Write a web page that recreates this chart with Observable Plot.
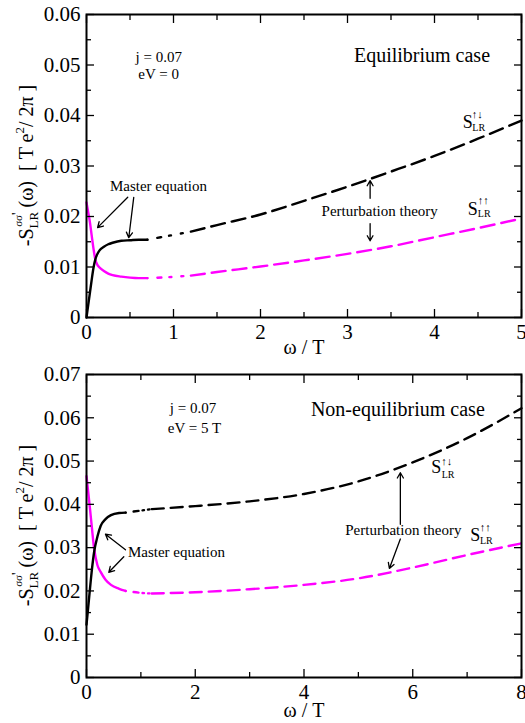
<!DOCTYPE html>
<html><head><meta charset="utf-8">
<script src="https://cdn.jsdelivr.net/npm/d3@7"></script>
<script src="https://cdn.jsdelivr.net/npm/@observablehq/plot@0.6"></script>
<style>
body{margin:0;background:#fff}
#chart{width:525px;background:#fff;font-family:'Liberation Serif',serif}
#chart svg{display:block}
#chart svg text, #chart svg tspan{font-family:'Liberation Serif',serif !important}
</style>
</head><body><div id="chart"></div>
<script>
// ---------- data ----------
// Top panel: equilibrium case, eV = 0
const topMasterW     = [0, 0.02, 0.04, 0.06, 0.08, 0.10, 0.12, 0.15, 0.20, 0.25, 0.30, 0.40, 0.50, 0.60, 0.70];
const topMasterAnti  = [0, 0.0025, 0.0050, 0.0075, 0.0098, 0.0114, 0.0124, 0.0133, 0.0140, 0.0145, 0.0148, 0.0152, 0.0153, 0.0154, 0.0154];
const topMasterPar   = [0.0228, 0.0208, 0.0188, 0.0162, 0.0137, 0.0116, 0.0106, 0.0099, 0.0092, 0.0087, 0.0084, 0.0081, 0.0079, 0.0078, 0.0078];
const topLinkW       = [0.70, 0.95, 1.20];
const topLinkAnti    = [0.0154, 0.0162, 0.0170];
const topLinkPar     = [0.0078, 0.0080, 0.0083];
const topPertW       = [1.2, 1.5, 2.0, 2.5, 3.0, 3.5, 4.0, 4.5, 5.0];
const topPertAnti    = [0.0170, 0.0183, 0.0204, 0.0231, 0.0259, 0.0289, 0.0320, 0.0354, 0.0390];
const topPertPar     = [0.0083, 0.0090, 0.0101, 0.0113, 0.0126, 0.0141, 0.0159, 0.0177, 0.0196];
// Bottom panel: non-equilibrium case, eV = 5 T
const botMasterW     = [0, 0.03, 0.06, 0.10, 0.14, 0.20, 0.26, 0.35, 0.45, 0.60, 0.72];
const botMasterAnti  = [0.0122, 0.0160, 0.0200, 0.0250, 0.0290, 0.0325, 0.0350, 0.0366, 0.0375, 0.0380, 0.0381];
const botMasterPar   = [0.0465, 0.0430, 0.0395, 0.0345, 0.0298, 0.0260, 0.0244, 0.0226, 0.0214, 0.0205, 0.0200];
const botLinkW       = [0.72, 0.96, 1.20];
const botLinkAnti    = [0.0381, 0.0385, 0.0389];
const botLinkPar     = [0.0200, 0.0196, 0.0194];
const botPertW       = [1.2, 2, 3, 4, 5, 6, 7, 8];
const botPertAnti    = [0.0389, 0.0396, 0.0407, 0.0424, 0.0453, 0.0497, 0.0553, 0.0622];
const botPertPar     = [0.0194, 0.0197, 0.0204, 0.0214, 0.0229, 0.0254, 0.0283, 0.0310];
// ticks
const topXMajor = [0, 1, 2, 3, 4, 5];
const topXMinor = [0.5, 1.5, 2.5, 3.5, 4.5];
const topYMajor = [0, 0.01, 0.02, 0.03, 0.04, 0.05, 0.06];
const topYMinor = [0.005, 0.015, 0.025, 0.035, 0.045, 0.055];
const botXMajor = [0, 2, 4, 6, 8];
const botXMinor = [1, 3, 5, 7];
const botYMajor = [0, 0.01, 0.02, 0.03, 0.04, 0.05, 0.06, 0.07];
const botYMinor = [0.005, 0.015, 0.025, 0.035, 0.045, 0.055, 0.065];
// texts
const xTitle = "ω / T";
const topParams = ["j = 0.07", "eV = 0"];
const botParams = ["j = 0.07", "eV = 5 T"];
const topCase = "Equilibrium case";
const botCase = "Non-equilibrium case";
const masterText = "Master equation";
const pertText = "Perturbation theory";

// ---------- helpers ----------
const FONT = "Liberation Serif";
const MAG = "#ff00ff";
const series = (ws, ss) => ws.map((w, i) => ({w, s: ss[i]}));
const fmtY = d => d === 0 ? "0" : d.toFixed(2);
const txt = (s, o) => Plot.text([s], {text: d => d, fontFamily: FONT, ...o});

function tickMarks(xMaj, xMin, yMaj, yMin) {
  const m = [];
  for (const [t, len] of [[xMaj, 8], [xMin, 5]]) {
    m.push(Plot.axisX({ticks: t, anchor: "bottom", tickSize: len, dy: -len, fill: "none", strokeWidth: 1.3}));
    m.push(Plot.axisX({ticks: t, anchor: "top", tickSize: len, dy: len, fill: "none", strokeWidth: 1.3}));
  }
  for (const [t, len] of [[yMaj, 8], [yMin, 5]]) {
    m.push(Plot.axisY({ticks: t, anchor: "left", tickSize: len, dx: len, fill: "none", strokeWidth: 1.3}));
    m.push(Plot.axisY({ticks: t, anchor: "right", tickSize: len, dx: -len, fill: "none", strokeWidth: 1.3}));
  }
  return m;
}
function labelMarks(xMaj, yMaj, titleDy) {
  return [
    Plot.axisX({ticks: xMaj, anchor: "bottom", tickSize: 0, tickPadding: 7, fontSize: 21, fontFamily: FONT, label: null, tickFormat: d => String(d)}),
    Plot.axisY({ticks: yMaj, anchor: "left", tickSize: 0, tickPadding: 6, fontSize: 21, fontFamily: FONT, label: null, tickFormat: fmtY}),
    Plot.text([xTitle], {frameAnchor: "bottom", dy: titleDy, text: d => d, fontSize: 20, fontFamily: FONT})
  ];
}
function curveMarks(mW, mA, mP, lW, lA, lP, pW, pA, pP, linkDash, pertDash) {
  const common = {x: "w", y: "s", strokeWidth: 2.4, curve: "monotone-x"};
  return [
    Plot.line(series(mW, mP), {...common, stroke: MAG}),
    Plot.line(series(mW, mA), {...common, stroke: "black"}),
    Plot.line(series(lW, lP), {...common, stroke: MAG, strokeDasharray: linkDash}),
    Plot.line(series(lW, lA), {...common, stroke: "black", strokeDasharray: linkDash}),
    Plot.line(series(pW, pP), {...common, stroke: MAG, strokeDasharray: pertDash}),
    Plot.line(series(pW, pA), {...common, stroke: "black", strokeDasharray: pertDash})
  ];
}
function sLabel(x, y, arrows, adx, ady, ldx, ldy) {
  return [
    txt("S", {x, y, fontSize: 18}),
    txt(arrows, {x, y, fontSize: 11, dx: adx, dy: ady, fontWeight: "bold"}),
    txt("LR", {x, y, fontSize: 10, dx: ldx, dy: ldy})
  ];
}
function arrow(x1, y1, x2, y2) {
  return Plot.arrow([0], {x1, y1, x2, y2, stroke: "black", strokeWidth: 1.3, headLength: 7});
}
function yLabel(svg, cy) {
  const t = d3.select(svg).append("text")
    .attr("transform", `translate(33,${cy}) rotate(-90)`)
    .attr("text-anchor", "middle")
    .attr("font-size", 20)
    .attr("font-family", FONT)
    .style("font-family", "'Liberation Serif', serif")
    .attr("fill", "black");
  t.append("tspan").text("-S");
  t.append("tspan").attr("font-size", 13).attr("dy", 5).text("LR");
  t.append("tspan").attr("font-size", 11).attr("dx", -15).attr("dy", -16).text("σσ");
  t.append("tspan").attr("font-size", 14).text("'");
  t.append("tspan").attr("dy", 11).text(" (ω)  [ T e");
  t.append("tspan").attr("font-size", 13).attr("dy", -9).text("2");
  t.append("tspan").attr("dy", 9).text("/ 2π ]");
}
function makePlot(opts) {
  const p = Plot.plot({
    width: 525, marginLeft: 86, marginRight: 4,
    style: {background: "white", color: "black", overflow: "visible", fontFamily: "'Liberation Serif', serif"},
    ...opts
  });
  p.setAttribute("font-family", "Liberation Serif");
  return p;
}

// ---------- top panel ----------
const topH = 365, topMT = 14, topMB = 48;
const topPlot = makePlot({
  height: topH, marginTop: topMT, marginBottom: topMB,
  x: {domain: [0, 5]},
  y: {domain: [0, 0.06]},
  marks: [
    ...curveMarks(topMasterW, topMasterAnti, topMasterPar, topLinkW, topLinkAnti, topLinkPar,
                  topPertW, topPertAnti, topPertPar, "0,10,4,8,2,10,2,30", "14,7"),
    ...tickMarks(topXMajor, topXMinor, topYMajor, topYMinor),
    Plot.frame({stroke: "black", strokeWidth: 2}),
    ...labelMarks(topXMajor, topYMajor, 36),
    txt(topParams[0], {x: 0.83, y: 0.0515, fontSize: 15}),
    txt(topParams[1], {x: 0.83, y: 0.0482, fontSize: 15}),
    txt(topCase, {x: 3.856, y: 0.0519, fontSize: 20}),
    txt(masterText, {x: 0.827, y: 0.0261, fontSize: 15}),
    arrow(0.474, 0.0238, 0.127, 0.0178),
    arrow(0.543, 0.0238, 0.486, 0.0158),
    txt(pertText, {x: 3.37, y: 0.0210, fontSize: 15}),
    arrow(3.26, 0.0236, 3.26, 0.0271),
    arrow(3.26, 0.0186, 3.26, 0.0152),
    ...sLabel(4.382, 0.0387, "↑↓", 9.5, -7.5, 11, 5.5),
    ...sLabel(4.439, 0.0215, "↑↑", 10.5, -8.3, 11.5, 4.7)
  ]
});
yLabel(topPlot, topMT + (topH - topMT - topMB) / 2);

// ---------- bottom panel ----------
const botH = 358, botMT = 9, botMB = 46;
const botPlot = makePlot({
  height: botH, marginTop: botMT, marginBottom: botMB,
  x: {domain: [0, 8]},
  y: {domain: [0, 0.07]},
  marks: [
    ...curveMarks(botMasterW, botMasterAnti, botMasterPar, botLinkW, botLinkAnti, botLinkPar,
                  botPertW, botPertAnti, botPertPar, "0,8,5,4,1.5,4,1.5,30", "12,7"),
    ...tickMarks(botXMajor, botXMinor, botYMajor, botYMinor),
    Plot.frame({stroke: "black", strokeWidth: 2}),
    ...labelMarks(botXMajor, botYMajor, 39),
    txt(botParams[0], {x: 1.958, y: 0.0622, fontSize: 15}),
    txt(botParams[1], {x: 1.985, y: 0.0576, fontSize: 15}),
    txt(botCase, {x: 5.726, y: 0.0618, fontSize: 20}),
    txt(masterText, {x: 1.654, y: 0.0290, fontSize: 15}),
    arrow(0.717, 0.0295, 0.349, 0.0331),
    arrow(0.686, 0.0279, 0.41, 0.0243),
    txt(pertText, {x: 5.827, y: 0.0340, fontSize: 15}),
    arrow(5.772, 0.0354, 5.772, 0.0473),
    arrow(5.772, 0.0320, 5.57, 0.0252),
    ...sLabel(6.43, 0.0485, "↑↓", 10.5, -6.5, 12, 7),
    ...sLabel(7.15, 0.0329, "↑↑", 10, -8, 11, 6)
  ]
});
yLabel(botPlot, botMT + (botH - botMT - botMB) / 2);

const chart = document.getElementById("chart");
chart.appendChild(topPlot);
chart.appendChild(botPlot);
</script>
</body></html>
